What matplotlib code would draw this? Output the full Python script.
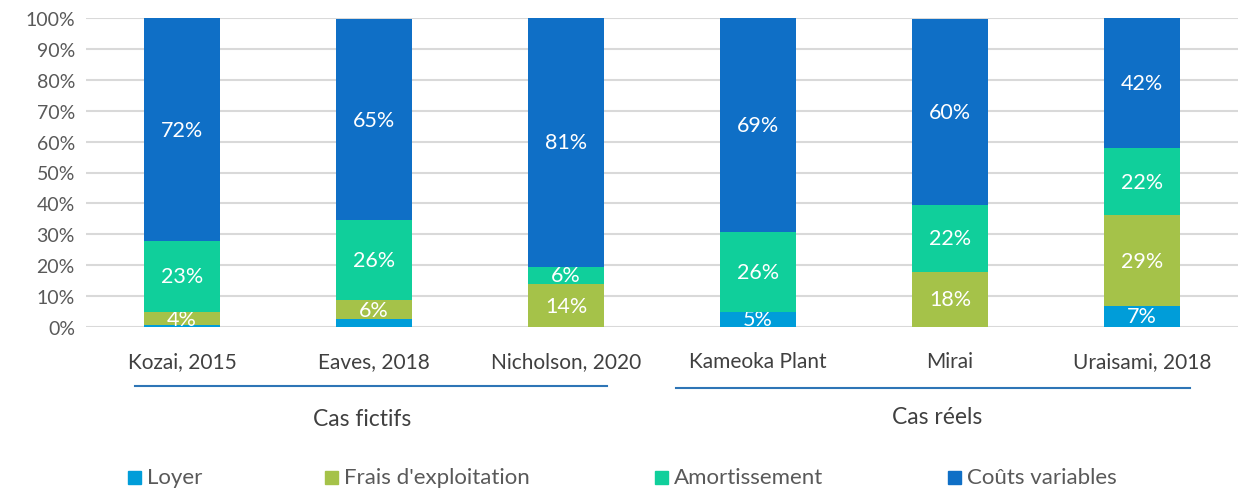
import matplotlib
matplotlib.use("Agg")
import matplotlib.pyplot as plt
from matplotlib.patches import Rectangle
from matplotlib.lines import Line2D
import numpy as np

plt.rcParams['font.family'] = ['Lato', 'DejaVu Sans']

categories = ["Kozai, 2015", "Eaves, 2018", "Nicholson, 2020", "Kameoka Plant", "Mirai", "Uraisami, 2018"]
series_names = ["Loyer", "Frais d'exploitation", "Amortissement", "Coûts variables"]
loyer = [0.6, 2.6, 0.0, 4.9, 0.0, 6.8]
frais = [4.3, 6.1, 13.9, 0.0, 17.8, 29.4]
amort = [22.9, 25.9, 5.6, 25.8, 21.7, 21.7]
variables = [72.2, 65.0, 80.8, 69.3, 60.3, 42.1]
groups = ["Cas fictifs", "Cas réels"]
yticks = list(range(0, 101, 10))

colors = ["#009DD9", "#A5C249", "#10CF9B", "#0F6FC6"]
series = [loyer, frais, amort, variables]

fig = plt.figure(figsize=(12.39, 4.89), dpi=100)
ax = fig.add_axes([86/1239, 1 - 328/489, (1238 - 86)/1239, (328 - 19)/489])

x = np.arange(len(categories))
bottom = np.zeros(len(categories))
for vals, col in zip(series, colors):
    vals = np.array(vals)
    bars = ax.bar(x, vals, width=0.4, bottom=bottom, color=col, zorder=3)
    labels = [f"{round(v)}%" if v >= 3 else "" for v in vals]
    ax.bar_label(bars, labels=labels, label_type='center', color='white', fontsize=15.5)
    bottom += vals

ax.set_xlim(-0.5, len(categories) - 0.5)
ax.set_ylim(0, 100)
ax.set_yticks(yticks)
ax.set_yticklabels([f"{t}%" for t in yticks], color="#595959", fontsize=14)
ax.yaxis.grid(True, color="#D9D9D9", linewidth=1.5, zorder=0)
ax.set_axisbelow(True)
for s in ax.spines.values():
    s.set_visible(False)
ax.tick_params(axis='both', length=0, pad=8)
ax.set_xticks(x)
ax.set_xticklabels(categories, color="#404040", fontsize=15)
ax.tick_params(axis='x', pad=17)

# group lines and labels
line_specs = [(135, 607, 387), (676, 1190, 389)]
label_pos = [(362, 420), (937, 418)]
for (x0, x1, yy), (tx, ty), g in zip(line_specs, label_pos, groups):
    fig.add_artist(Line2D([x0/1239, x1/1239], [1 - yy/489, 1 - yy/489], color="#2E75B6", linewidth=1.5))
    fig.text(tx/1239, 1 - ty/489, g, ha='center', va='center', fontsize=16.5, color="#404040")

# legend
sq_left = [128, 325, 655, 948]
ly = 478
sq = 13
for sx, name, col in zip(sq_left, series_names, colors):
    fig.add_artist(Rectangle((sx/1239, 1 - (ly + sq/2)/489), sq/1239, sq/489, color=col, transform=fig.transFigure))
    fig.text((sx + 19)/1239, 1 - ly/489, name, ha='left', va='center', fontsize=16, color="#595959")

fig.savefig("out.png", dpi=100)
